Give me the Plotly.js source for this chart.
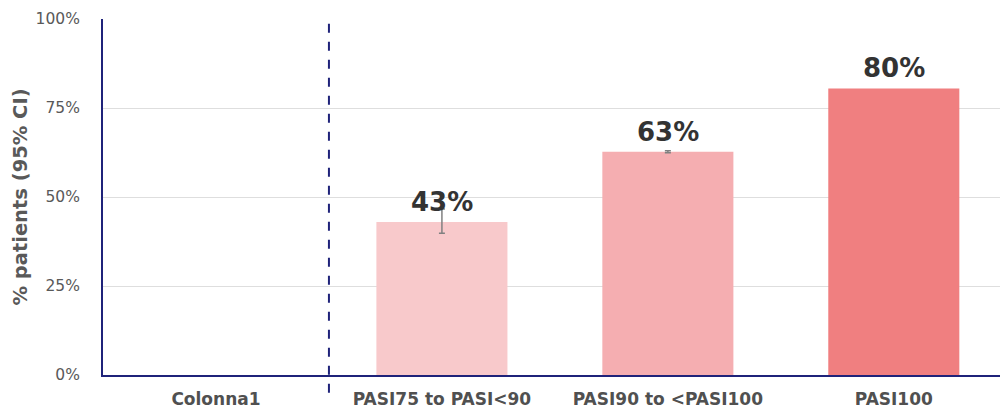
<!DOCTYPE html>
<html>
<head>
<meta charset="utf-8">
<script src="https://cdn.plot.ly/plotly-3.0.1.min.js"></script>
<style>html,body{margin:0;padding:0;background:#fff;}#chart{width:1000px;height:413px;}</style>
</head>
<body>
<div id="chart"></div>
<script>
const categories = ["Colonna1", "PASI75 to PASI<90", "PASI90 to <PASI100", "PASI100"];
const values = [null, 43, 62.7, 80.5];
const labels = ["", "43%", "63%", "80%"];
const errPlus = [NaN, 3.6, 0.3, NaN];
const errMinus = [NaN, 3.2, 0.3, NaN];
const colors = ["#f8c9cb", "#f8c9cb", "#f5aeb1", "#f07f80"];

const trace = {
  type: "bar",
  x: categories,
  y: values,
  width: 0.58,
  marker: {color: colors},
  error_y: {type: "data", symmetric: false, array: errPlus, arrayminus: errMinus,
            color: "#808080", thickness: 1.5, width: 3},
  hoverinfo: "none"
};

const annotations = categories.map((c, i) => values[i] == null ? null : ({
  x: c, y: values[i], xref: "x", yref: "y", text: labels[i], showarrow: false,
  yanchor: "bottom", yshift: 3,
  font: {family: "DejaVu Sans", size: 26, color: "#333333", weight: "bold"}
})).filter(a => a);

const layout = {
  width: 1000, height: 413,
  margin: {l: 103, r: 0, t: 19, b: 38},
  paper_bgcolor: "#ffffff", plot_bgcolor: "#ffffff",
  showlegend: false,
  xaxis: {
    type: "category",
    range: [-0.5, 3.47],
    showline: true, linecolor: "#1f237a", linewidth: 2,
    showgrid: false, zeroline: false, ticks: "",
    tickfont: {family: "DejaVu Sans", size: 17, color: "#505050", weight: "bold"},
    ticklabelstandoff: 8
  },
  yaxis: {
    range: [0, 100],
    tickvals: [0, 25, 50, 75, 100],
    ticktext: ["0%", "25%", "50%", "75%", "100%"],
    showline: true, linecolor: "#1f237a", linewidth: 2,
    showgrid: true, gridcolor: "#dedede", gridwidth: 1,
    zeroline: false, ticks: "",
    tickfont: {family: "DejaVu Sans", size: 15.5, color: "#595959"},
    ticklabelstandoff: 18,
    title: {text: "% patients (95% CI)", standoff: 3,
            font: {family: "DejaVu Sans", size: 19.5, color: "#595959", weight: "bold"}}
  },
  shapes: [{
    type: "line", xref: "x", yref: "paper", x0: 0.5, x1: 0.5, y0: -0.05, y1: 1,
    line: {color: "#1f237a", width: 2, dash: "dash"}
  }],
  annotations: annotations
};

Plotly.newPlot("chart", [trace], layout, {displayModeBar: false, staticPlot: true});
</script>
</body>
</html>
